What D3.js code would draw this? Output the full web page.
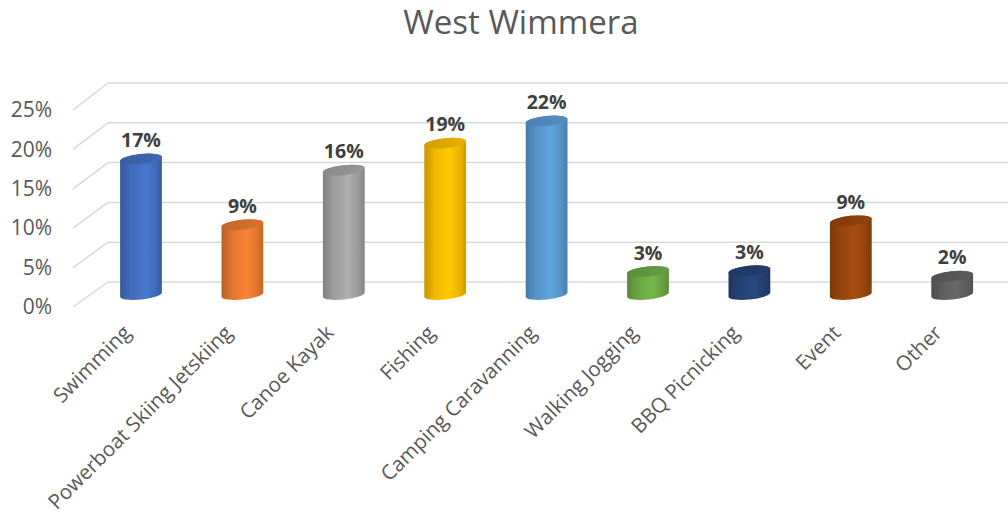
<!DOCTYPE html>
<html>
<head>
<meta charset="utf-8">
<script src="https://cdn.jsdelivr.net/npm/d3@7"></script>
<style>
  html, body { margin: 0; padding: 0; background: #fff; }
  svg { display: block; font-family: "Open Sans", sans-serif; }
</style>
</head>
<body>
<svg id="chart" width="1008" height="523"></svg>
<script>
// ---- data ----
const categories = ["Swimming", "Powerboat Skiing Jetskiing", "Canoe Kayak", "Fishing",
  "Camping Caravanning", "Walking Jogging", "BBQ Picnicking", "Event", "Other"];
const values = [0.171, 0.088, 0.157, 0.191, 0.219, 0.029, 0.030, 0.093, 0.023];
const colors = ["#4472C4", "#ED7D31", "#A5A5A5", "#FFC000", "#5B9BD5", "#70AD47", "#264478", "#9E480E", "#636363"];
const yTicks = [0, 0.05, 0.10, 0.15, 0.20, 0.25];
const title = "West Wimmera";

// ---- layout ----
const svg = d3.select("#chart");
const W = 1008, H = 523;
const depthDx = 35;              // perspective shift of the back wall
const frontLeft = 73;
const yFront = d3.scaleLinear().domain([0, 0.25]).range([307, 110]);
const yBack = d3.scaleLinear().domain([0, 0.25]).range([282, 83]);
const yMid = d3.scaleLinear().domain([0, 0.25]).range([294.5, 96.5]);
const x = d3.scaleBand().domain(categories).range([90.3, 1002.9]).padding(0);
const fmt = d3.format(".0%");
const textColor = "#595959";
const gridColor = "#d9d9d9";

// title
svg.append("text")
  .attr("x", 521).attr("y", 34)
  .attr("text-anchor", "middle")
  .attr("font-size", 33)
  .attr("fill", textColor)
  .text(title);

// gridlines: back wall + side wall diagonals
const grid = svg.append("g");
grid.selectAll("line.back").data(yTicks).join("line")
  .attr("x1", frontLeft + depthDx).attr("x2", W)
  .attr("y1", d => yBack(d)).attr("y2", d => yBack(d))
  .attr("stroke", gridColor).attr("stroke-width", 1.5);
grid.selectAll("line.side").data(yTicks).join("line")
  .attr("x1", frontLeft).attr("y1", d => yFront(d))
  .attr("x2", frontLeft + depthDx).attr("y2", d => yBack(d))
  .attr("stroke", gridColor).attr("stroke-width", 1.5);

// y axis labels
const yAxis = d3.axisLeft(yFront).tickValues(yTicks).tickFormat(fmt).tickSize(0).tickPadding(0);
const gy = svg.append("g").attr("transform", "translate(52,0)").call(yAxis);
gy.select(".domain").remove();
gy.selectAll("text").attr("fill", textColor).attr("font-size", 21)
  .attr("font-family", "'Open Sans', sans-serif");

// gradients
const defs = svg.append("defs");
colors.forEach((c, i) => {
  const base = d3.color(c);
  const g = defs.append("linearGradient").attr("id", "grad" + i)
    .attr("x1", "0%").attr("x2", "100%").attr("y1", "0%").attr("y2", "0%");
  g.append("stop").attr("offset", "0%").attr("stop-color", base.darker(0.7));
  g.append("stop").attr("offset", "25%").attr("stop-color", base.darker(0.15));
  g.append("stop").attr("offset", "60%").attr("stop-color", base.brighter(0.15));
  g.append("stop").attr("offset", "85%").attr("stop-color", base.darker(0.2));
  g.append("stop").attr("offset", "100%").attr("stop-color", base.darker(0.6));
  const t = defs.append("linearGradient").attr("id", "top" + i)
    .attr("x1", "0%").attr("x2", "100%").attr("y1", "0%").attr("y2", "0%");
  t.append("stop").attr("offset", "0%").attr("stop-color", base.darker(0.55));
  t.append("stop").attr("offset", "100%").attr("stop-color", base.darker(0.25));
});

// cylinders
const rx = 21, ry = 5, tilt = -6;
const th = tilt * Math.PI / 180;
const ex = rx * Math.cos(th), ey = rx * Math.sin(th);
const bars = svg.append("g").selectAll("g").data(categories).join("g");
bars.each(function (cat, i) {
  const g = d3.select(this);
  const cx = x(cat) + x.bandwidth() / 2;
  const yb = yMid(0), yt = yMid(values[i]);
  const p = `M${cx - ex},${yt - ey} L${cx - ex},${yb - ey} ` +
    `A${rx},${ry} ${tilt} 0 0 ${cx + ex},${yb + ey} ` +
    `L${cx + ex},${yt + ey} A${rx},${ry} ${tilt} 0 0 ${cx - ex},${yt - ey} Z`;
  g.append("path").attr("d", p).attr("fill", `url(#grad${i})`);
  g.append("ellipse").attr("cx", cx).attr("cy", yt).attr("rx", rx).attr("ry", ry)
    .attr("transform", `rotate(${tilt},${cx},${yt})`)
    .attr("fill", `url(#top${i})`);
  g.append("text")
    .attr("x", cx).attr("y", yt - 12)
    .attr("text-anchor", "middle")
    .attr("font-size", 19.5).attr("font-weight", "bold")
    .attr("fill", "#404040")
    .text(fmt(values[i]));
});

// category labels
svg.append("g").selectAll("text").data(categories).join("text")
  .attr("transform", d => `translate(${x(d) + x.bandwidth() / 2 - 9},${334}) rotate(-45)`)
  .attr("text-anchor", "end")
  .attr("font-size", 20.5)
  .attr("fill", textColor)
  .text(d => d);
</script>
</body>
</html>
